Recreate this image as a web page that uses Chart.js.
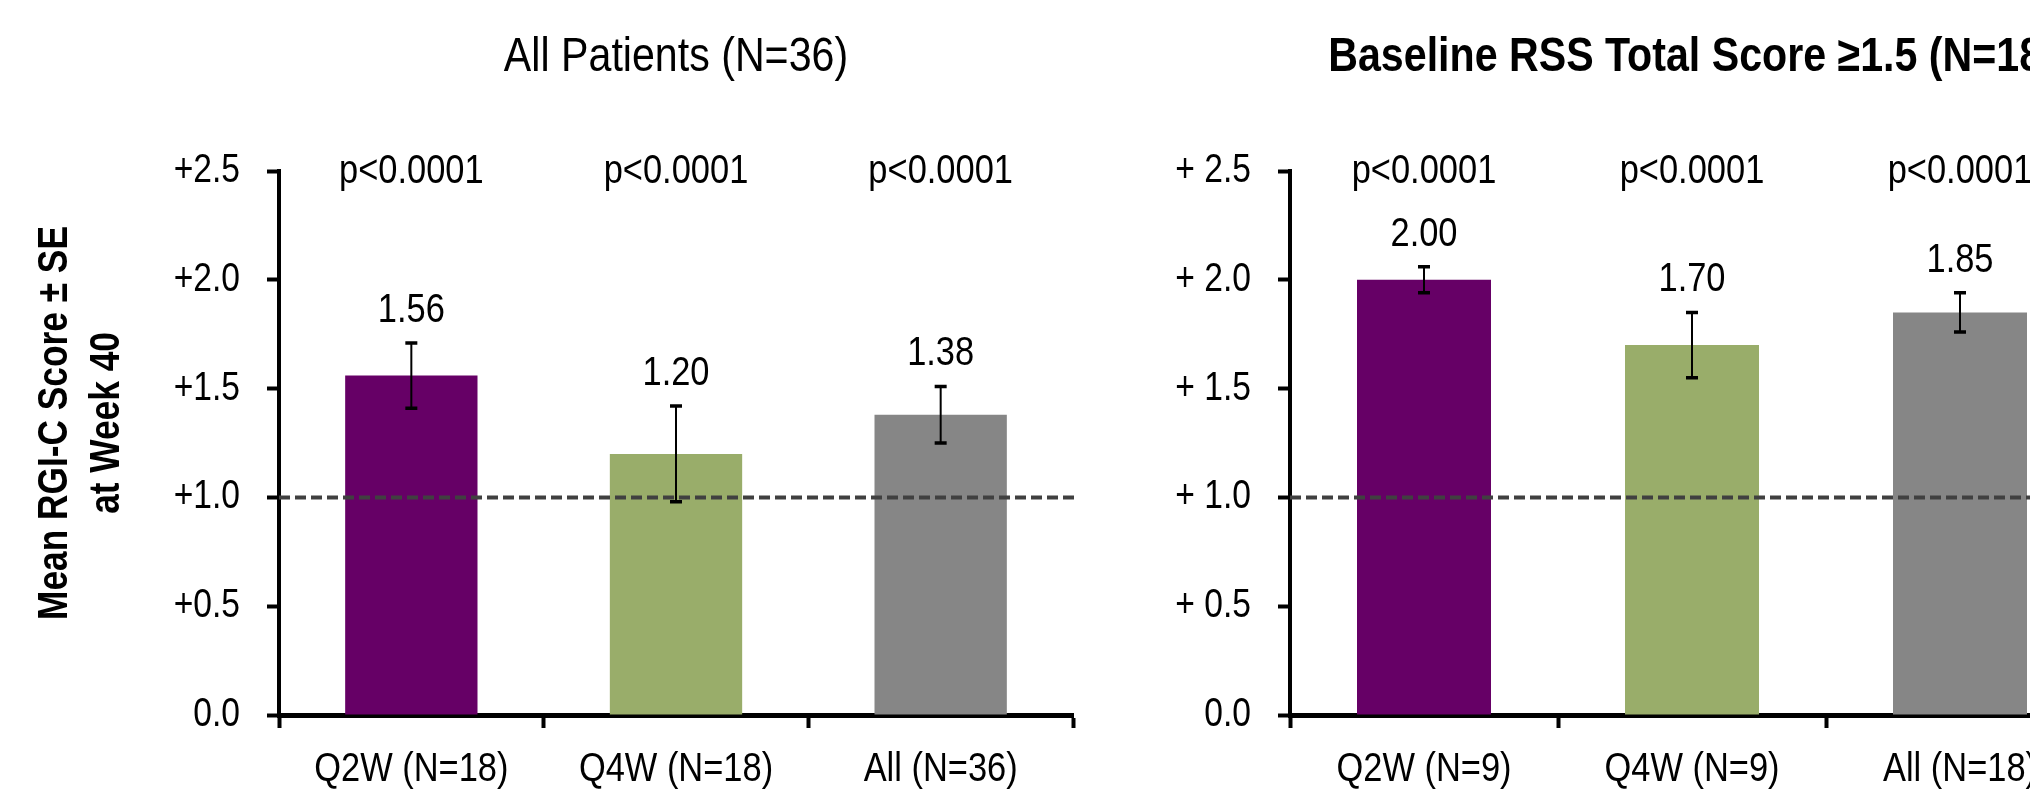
<!DOCTYPE html>
<html><head><meta charset="utf-8">
<script src="https://cdn.jsdelivr.net/npm/chart.js@4/dist/chart.umd.min.js"></script>
<style>
html,body{margin:0;padding:0;background:#fff;overflow:hidden;width:2030px;height:792px;}
canvas{position:absolute;top:0;}
#c1{left:0;}
#c2{left:1100px;}
</style></head><body>
<canvas id="c1" width="1100" height="792"></canvas>
<canvas id="c2" width="1030" height="792"></canvas>
<script>
// ---- data ----
const categoriesLeft = ['Q2W (N=18)', 'Q4W (N=18)', 'All (N=36)'];
const meansLeft = [1.56, 1.20, 1.38];
const seLeft = [0.15, 0.22, 0.13];
const pLabelsLeft = ['p<0.0001', 'p<0.0001', 'p<0.0001'];
const yTickLabelsLeft = ['0.0', '+0.5', '+1.0', '+1.5', '+2.0', '+2.5'];

const categoriesRight = ['Q2W (N=9)', 'Q4W (N=9)', 'All (N=18)'];
const meansRight = [2.00, 1.70, 1.85];
const seRight = [0.06, 0.15, 0.09];
const pLabelsRight = ['p<0.0001', 'p<0.0001', 'p<0.0001'];
const yTickLabelsRight = ['0.0', '+ 0.5', '+ 1.0', '+ 1.5', '+ 2.0', '+ 2.5'];

const barColors = ['#660066', '#99AD6A', '#868686'];
const titleLeft = 'All Patients (N=36)';
const titleRight = 'Baseline RSS Total Score \u22651.5 (N=18)';
const yTitleLines = ['Mean RGI-C Score \u00B1 SE', 'at Week 40'];
const referenceLine = 1.0;
const yMin = 0, yMax = 2.5, yStep = 0.5;

// ---- drawing ----
const FONT = "'Liberation Sans Narrow', 'Arial Narrow', 'Liberation Sans', Arial, sans-serif";
const SX = 0.84; // horizontal condensing of all text (narrow typeface look)

function condense(canvas) {
  const ctx = canvas.getContext('2d');
  const orig = ctx.fillText;
  ctx.fillText = function (t, x, y, mw) {
    this.save();
    this.translate(x, y);
    this.scale(SX, 1);
    if (mw === undefined || mw === null) orig.call(this, t, 0, 0);
    else orig.call(this, t, 0, 0, mw / SX);
    this.restore();
  };
  return canvas;
}

const annotPlugin = {
  id: 'annot',
  afterDatasetsDraw(chart, args, o) {
    const {ctx, chartArea: ca, scales: {x, y}} = chart;
    ctx.save();
    // reference line
    const yr = y.getPixelForValue(referenceLine);
    ctx.setLineDash([11, 5]);
    ctx.lineWidth = 4;
    ctx.strokeStyle = '#404040';
    ctx.beginPath();
    ctx.moveTo(ca.left, yr);
    ctx.lineTo(ca.right + 5, yr);
    ctx.stroke();
    ctx.setLineDash([]);
    // error bars + value labels + p values
    o.means.forEach((m, i) => {
      const xc = x.getPixelForValue(i);
      const yt = y.getPixelForValue(m + o.se[i]);
      const yb = y.getPixelForValue(m - o.se[i]);
      ctx.strokeStyle = '#000';
      ctx.lineWidth = 2;
      ctx.beginPath(); ctx.moveTo(xc, yt); ctx.lineTo(xc, yb); ctx.stroke();
      ctx.lineWidth = 3.5;
      ctx.beginPath();
      ctx.moveTo(xc - 6, yt); ctx.lineTo(xc + 6, yt);
      ctx.moveTo(xc - 6, yb); ctx.lineTo(xc + 6, yb);
      ctx.stroke();
      ctx.fillStyle = '#000';
      ctx.font = '41px ' + FONT;
      ctx.textAlign = 'center';
      ctx.textBaseline = 'alphabetic';
      ctx.fillText(m.toFixed(2), xc, yt - 21);
      ctx.fillText(o.pLabels[i], xc, y.getPixelForValue(yMax) + 12);
    });
    // panel title
    ctx.font = (o.titleBold ? 'bold ' : '') + '49px ' + FONT;
    ctx.textAlign = 'center';
    ctx.textBaseline = 'alphabetic';
    ctx.fillText(o.title, (ca.left + ca.right) / 2, 71);
    // y-axis title
    if (o.yTitle) {
      ctx.font = 'bold 42px ' + FONT;
      ctx.translate(0, (ca.top + ca.bottom) / 2 - 20);
      ctx.rotate(-Math.PI / 2);
      ctx.textBaseline = 'middle';
      o.yTitle.forEach((t, k) => ctx.fillText(t, 0, 55 + k * 52));
    }
    ctx.restore();
  }
};

function makeChart(id, cats, means, se, pLabels, yLabels, title, titleBold, yTitle, axisW, padRight) {
  return new Chart(condense(document.getElementById(id)), {
    type: 'bar',
    data: {
      labels: cats,
      datasets: [{data: means, backgroundColor: barColors, borderWidth: 0,
                  barPercentage: 0.5, categoryPercentage: 1}]
    },
    options: {
      responsive: false, animation: false, devicePixelRatio: 1,
      layout: {padding: {top: 171, right: padRight, left: 0, bottom: 0}},
      plugins: {legend: {display: false}, tooltip: {enabled: false}, title: {display: false},
        annot: {means, se, pLabels, title, titleBold, yTitle}},
      scales: {
        x: {
          offset: true,
          grid: {display: true, offset: true, drawOnChartArea: false, drawTicks: true,
                 tickLength: 13, tickWidth: 4, tickColor: '#000'},
          border: {display: true, color: '#000', width: 5},
          ticks: {color: '#000', font: {family: FONT, size: 41}, padding: 17,
                  maxRotation: 0, autoSkip: false},
          afterFit(s) { s.height = 77; }
        },
        y: {
          min: yMin, max: yMax,
          grid: {display: true, drawOnChartArea: false, drawTicks: true,
                 tickLength: 12, tickWidth: 4, tickColor: '#000'},
          border: {display: true, color: '#000', width: 4},
          ticks: {stepSize: yStep, color: '#000', font: {family: FONT, size: 40}, padding: 27,
                  callback: (v, i) => yLabels[i]},
          afterFit(s) { s.width = axisW; }
        }
      }
    },
    plugins: [annotPlugin]
  });
}

makeChart('c1', categoriesLeft, meansLeft, seLeft, pLabelsLeft, yTickLabelsLeft,
          titleLeft, false, yTitleLines, 279, 27);
makeChart('c2', categoriesRight, meansRight, seRight, pLabelsRight, yTickLabelsRight,
          titleRight, true, null, 190, 36);
</script>
</body></html>
